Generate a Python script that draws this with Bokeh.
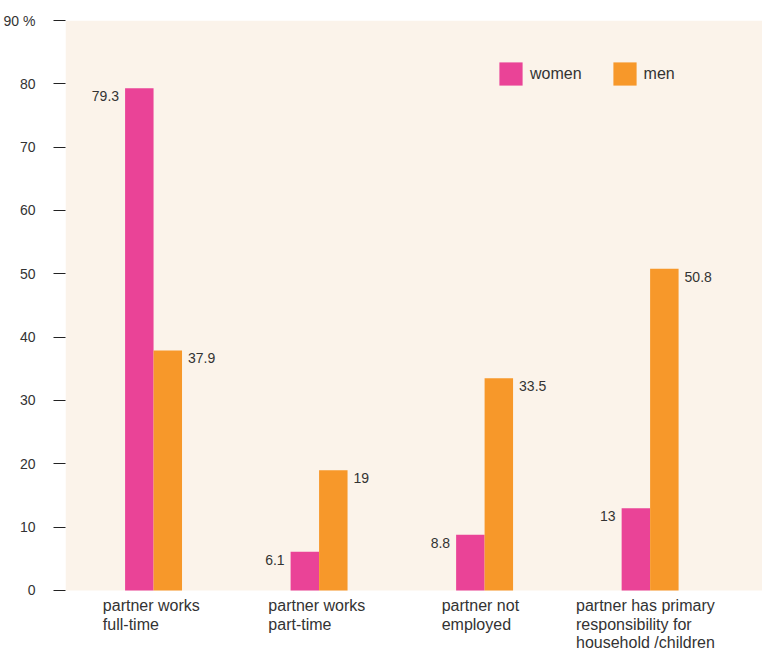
from bokeh.plotting import figure
from bokeh.models import Range1d, FixedTicker, Legend, LegendItem, ColumnDataSource, BoxAnnotation
from bokeh.transform import dodge
from bokeh.core.properties import value
from bokeh.embed import file_html
from bokeh.resources import INLINE

categories = ["partner works\nfull-time", "partner works\npart-time",
              "partner not\nemployed",
              "partner has primary\nresponsibility for\nhousehold /children"]
women = [79.3, 6.1, 8.8, 13]
men = [37.9, 19, 33.5, 50.8]
women_labels = ["79.3", "6.1", "8.8", "13"]
men_labels = ["37.9", "19", "33.5", "50.8"]
y_ticks = [0, 10, 20, 30, 40, 50, 60, 70, 80, 90]
y_tick_labels = ["0", "10", "20", "30", "40", "50", "60", "70", "80", "90 %"]

PINK = "#EA4397"
ORANGE = "#F7982A"
BG = "#FBF3EA"
TXT = "#333333"
FONT = "Liberation Sans"

idx = list(range(len(categories)))
bw = 0.172
zeros = [0] * len(categories)
cat_offsets = [-max(len(s) for s in c.split("\n")) * 3.9 for c in categories]

src = ColumnDataSource(dict(x=idx, women=women, men=men,
                            wl=women_labels, ml=men_labels,
                            cat=categories, zero=zeros, cxo=cat_offsets))

# y = 0 sits 63 px above the bottom edge; the frame runs to the bottom so that
# the category labels below the bars are not clipped
p = figure(width=762, height=653, output_backend="svg", toolbar_location=None,
           x_range=Range1d(-0.532, 3.679), y_range=Range1d(-9.95, 90),
           min_border_left=65, min_border_right=0, min_border_top=20,
           min_border_bottom=0)
p.background_fill_color = "white"
p.border_fill_color = "white"
p.outline_line_color = None
p.xgrid.visible = False
p.ygrid.visible = False
p.xaxis.visible = False

p.add_layout(BoxAnnotation(bottom=0, top=max(y_ticks), fill_color=BG,
                           fill_alpha=1, line_color=None, level="underlay"))

rw = p.vbar(x=dodge("x", -bw / 2, range=p.x_range), top="women", width=bw,
            source=src, fill_color=PINK, line_color=None)
rm = p.vbar(x=dodge("x", bw / 2, range=p.x_range), top="men", width=bw,
            source=src, fill_color=ORANGE, line_color=None)

p.text(x=dodge("x", -bw, range=p.x_range), y="women", text="wl", source=src,
       x_offset=-6, y_offset=8, text_align="right", text_baseline="middle",
       text_font=value(FONT), text_font_size="14px", text_color=TXT)
p.text(x=dodge("x", bw, range=p.x_range), y="men", text="ml", source=src,
       x_offset=6, y_offset=8, text_align="left", text_baseline="middle",
       text_font=value(FONT), text_font_size="14px", text_color=TXT)

# category labels below the bars
p.text(x="x", y="zero", text="cat", source=src, x_offset="cxo", y_offset=7,
       text_align="left", text_baseline="top", text_line_height=1.08,
       text_font=value(FONT), text_font_size="16px", text_color=TXT)

ax = p.yaxis[0]
ax.ticker = FixedTicker(ticks=y_ticks)
ax.major_label_overrides = {t: l for t, l in zip(y_ticks, y_tick_labels)}
ax.axis_line_color = None
ax.major_tick_in = 0
ax.major_tick_out = 12
ax.major_tick_line_color = "#222222"
ax.minor_tick_line_color = None
ax.major_label_standoff = 18
ax.major_label_text_font = FONT
ax.major_label_text_font_size = "14px"
ax.major_label_text_color = TXT

legend = Legend(items=[LegendItem(label="women", renderers=[rw]),
                       LegendItem(label="men", renderers=[rm])],
                orientation="horizontal", location=(431, 565),
                glyph_width=29, glyph_height=29, label_standoff=5, spacing=28,
                padding=0, margin=0, border_line_color=None,
                background_fill_alpha=0,
                label_text_font=FONT, label_text_font_size="16px",
                label_text_color=TXT)
p.add_layout(legend)

open("out.html", "w").write(file_html(p, INLINE))
